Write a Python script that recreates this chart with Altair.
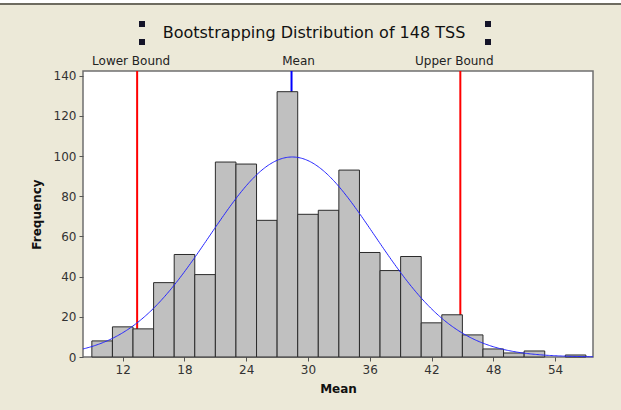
import numpy as np
import pandas as pd
import altair as alt

# Bootstrap sample means, binned in width-2 classes centred on even values
bin_centers = [10, 12, 14, 16, 18, 20, 22, 24, 26, 28, 30, 32,
               34, 36, 38, 40, 42, 44, 46, 48, 50, 52, 54, 56]
frequency = [8, 15, 14, 37, 51, 41, 97, 96, 68, 132, 71, 73,
             93, 52, 43, 50, 17, 21, 11, 4, 2, 3, 0, 1]
BIN_WIDTH = 2

# Reference lines: percentile bounds and the bootstrap mean
ref_names = ["Lower Bound", "Mean", "Upper Bound"]
ref_values = [13.4, 28.4, 44.8]

x_ticks = [12, 18, 24, 30, 36, 42, 48, 54]
y_ticks = [0, 20, 40, 60, 80, 100, 120, 140]

X_DOMAIN = [8.14, 57.69]
Y_DOMAIN = [0, 142.3]

# Layout (pixels)
W, H = 621, 410
LEFT, TOP, PLOT_W, PLOT_H = 83, 71, 510, 286
FONT = "DejaVu Sans"
BG = "#ECE9D8"

hist = pd.DataFrame({"center": bin_centers, "freq": frequency})
hist["start"] = hist["center"] - BIN_WIDTH / 2
hist["end"] = hist["center"] + BIN_WIDTH / 2

# Fitted normal curve, scaled to histogram counts
n = hist["freq"].sum()
mu = (hist["center"] * hist["freq"]).sum() / n
sd = np.sqrt(((hist["center"] - mu) ** 2 * hist["freq"]).sum() / n)
xs = np.linspace(X_DOMAIN[0], X_DOMAIN[1], 400)
fit = pd.DataFrame({
    "x": xs,
    "y": n * BIN_WIDTH * np.exp(-0.5 * ((xs - mu) / sd) ** 2) / (sd * np.sqrt(2 * np.pi)),
})

xscale = alt.Scale(domain=X_DOMAIN, nice=False, zero=False)
yscale = alt.Scale(domain=Y_DOMAIN, nice=False)

x_axis = alt.Axis(values=x_ticks, title="Mean", grid=False, domain=False,
                  tickColor="#555555", tickSize=4, labelPadding=3,
                  labelFont=FONT, labelFontSize=12, labelColor="#333333",
                  titleFont=FONT, titleFontSize=12, titleFontWeight="bold",
                  titleColor="#111111", titlePadding=8)
y_axis = alt.Axis(values=y_ticks, title="Frequency", grid=False, domain=False,
                  tickColor="#555555", tickSize=4, labelPadding=3,
                  labelFont=FONT, labelFontSize=12, labelColor="#333333",
                  titleFont=FONT, titleFontSize=12, titleFontWeight="bold",
                  titleColor="#111111", titlePadding=10)

refs = pd.DataFrame({"name": ref_names, "value": ref_values})

red_rules = alt.Chart(refs[refs["name"] != "Mean"]).mark_rule(
    color="#FF0000", strokeWidth=2).encode(
    x=alt.X("value:Q", scale=xscale, axis=x_axis),
    y=alt.value(0), y2=alt.value(PLOT_H))
mean_rule = alt.Chart(refs[refs["name"] == "Mean"]).mark_rule(
    color="#0000FF", strokeWidth=2).encode(
    x=alt.X("value:Q", scale=xscale),
    y=alt.value(0), y2=alt.value(PLOT_H))

bars = alt.Chart(hist).transform_filter("datum.freq > 0").mark_rect(
    fill="#C0C0C0", stroke="#2b2b2b", strokeWidth=1).encode(
    x=alt.X("start:Q", scale=xscale, axis=x_axis),
    x2="end:Q",
    y=alt.Y("freq:Q", scale=yscale, axis=y_axis),
    y2=alt.datum(0))

curve = alt.Chart(fit).mark_line(color="#2626FF", strokeWidth=1).encode(
    x=alt.X("x:Q", scale=xscale),
    y=alt.Y("y:Q", scale=yscale))

# Labels above each reference line
label_dx = {"Lower Bound": -6, "Mean": 7, "Upper Bound": -6}
labels = [
    alt.Chart(refs[refs["name"] == name]).mark_text(
        font=FONT, fontSize=12, color="#222222", baseline="middle",
        align="center", dx=dx).encode(
        x=alt.X("value:Q", scale=xscale), y=alt.value(-10), text="name:N")
    for name, dx in label_dx.items()
]

title_df = pd.DataFrame({"t": ["Bootstrapping Distribution of 148 TSS"]})
title = alt.Chart(title_df).mark_text(
    font=FONT, fontSize=16, color="#111111", align="center",
    baseline="middle").encode(
    x=alt.value(314 - LEFT), y=alt.value(33 - TOP), text="t:N")

# Selection handles either side of the title
def handle(cx, cy):
    return alt.Chart(title_df).mark_rect(color="#141428").encode(
        x=alt.value(cx - 3 - LEFT), x2=alt.value(cx + 3 - LEFT),
        y=alt.value(cy - 3 - TOP), y2=alt.value(cy + 3 - TOP))

handles = [handle(142, 24), handle(142, 42), handle(488, 24), handle(488, 42)]

# Window edge along the top
top_white = alt.Chart(title_df).mark_rect(color="#FFFFFF").encode(
    x=alt.value(-LEFT), x2=alt.value(W - LEFT),
    y=alt.value(-TOP), y2=alt.value(3 - TOP))
top_edge = alt.Chart(title_df).mark_rect(color="#6E6C60").encode(
    x=alt.value(-LEFT), x2=alt.value(W - LEFT),
    y=alt.value(3 - TOP), y2=alt.value(5 - TOP))

chart = alt.layer(
    top_white, top_edge, red_rules, mean_rule, bars, curve, title,
    *labels, *handles,
).properties(
    width=PLOT_W, height=PLOT_H,
    autosize=alt.AutoSizeParams(type="none"),
    padding={"left": LEFT, "top": TOP, "right": W - LEFT - PLOT_W,
             "bottom": H - TOP - PLOT_H},
    background=BG,
).configure_view(
    fill="#FFFFFF", stroke="#6F6F6F", strokeWidth=1.5,
)

chart.save("out.html", embed_options={"renderer": "svg", "actions": False})
